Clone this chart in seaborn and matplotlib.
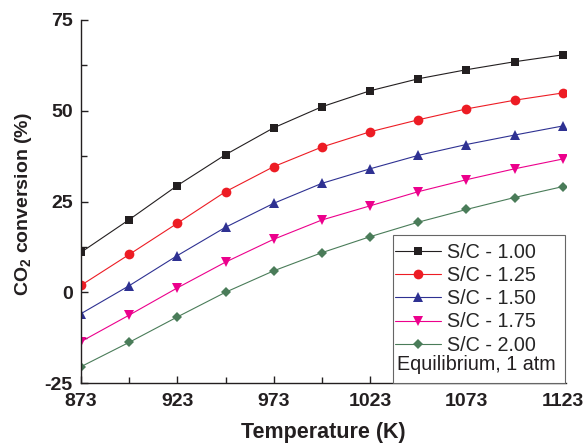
import numpy as np
import pandas as pd
import matplotlib
matplotlib.use("Agg")
import matplotlib.pyplot as plt
from matplotlib.patches import Rectangle
import seaborn as sns

temperature = [873, 898, 923, 948, 973, 998, 1023, 1048, 1073, 1098, 1123]
sc_100 = [11.0, 20.0, 29.4, 37.9, 45.3, 51.1, 55.5, 58.8, 61.3, 63.5, 65.4]
sc_125 = [1.9, 10.4, 19.0, 27.7, 34.6, 40.0, 44.2, 47.5, 50.5, 52.9, 54.9]
sc_150 = [-5.9, 1.8, 10.1, 17.9, 24.5, 30.0, 34.0, 37.7, 40.7, 43.3, 45.8]
sc_175 = [-13.6, -6.3, 1.2, 8.3, 14.6, 19.9, 23.8, 27.7, 31.0, 34.0, 36.7]
sc_200 = [-20.5, -13.8, -6.8, 0.0, 5.9, 10.9, 15.3, 19.3, 22.8, 26.1, 29.1]
labels = ["S/C - 1.00", "S/C - 1.25", "S/C - 1.50", "S/C - 1.75", "S/C - 2.00"]
series = [sc_100, sc_125, sc_150, sc_175, sc_200]
x_major = [873, 923, 973, 1023, 1073, 1123]
x_minor = [898, 948, 998, 1048, 1098]
y_major = [-25, 0, 25, 50, 75]
y_minor = [-12.5, 12.5, 37.5, 62.5]
note = "Equilibrium, 1 atm"

colors = ["#231f20", "#ed1c24", "#2e3192", "#ec008c", "#4a7c59"]
markers = ["s", "o", "^", "v", "D"]
msizes = [6.0, 7.0, 7.5, 7.5, 5.5]

sns.set_style("ticks")
plt.rcParams["font.family"] = ["Liberation Sans", "DejaVu Sans"]
plt.rcParams["mathtext.fontset"] = "custom"
plt.rcParams["mathtext.rm"] = "Liberation Sans"
plt.rcParams["mathtext.bf"] = "Liberation Sans:bold"
plt.rcParams["axes.unicode_minus"] = False

W, H = 587, 443
L, R, T, B = 81, 565.6, 20, 383
AW, AH = R - L, B - T
fig = plt.figure(figsize=(W / 100, H / 100), dpi=100)
ax = fig.add_axes([L / W, (H - B) / H, AW / W, AH / H])

def fx(px):
    return (px - L) / AW

def fy(py):
    return (B - py) / AH

for lab, vals, c, m, ms in zip(labels, series, colors, markers, msizes):
    df = pd.DataFrame({"T": temperature, "v": vals})
    sns.lineplot(data=df, x="T", y="v", ax=ax, color=c, marker=m,
                 markersize=ms, markeredgewidth=0, linewidth=0.8,
                 label=lab, clip_on=True)

ax.set_xlim(873, 873 + 250 * AW / 481.7)
ax.set_ylim(-25, 75)
ax.set_xticks(x_major)
ax.set_xticks(x_minor, minor=True)
ax.set_yticks(y_major)
ax.set_yticks(y_minor, minor=True)
ax.tick_params(which="both", direction="in", width=1.0, color="#231f20")
ax.tick_params(which="major", length=5, labelsize=14)
ax.tick_params(which="minor", length=4)
ax.tick_params(axis="x", which="major", pad=7)
ax.tick_params(axis="y", which="major", pad=6)
for t in ax.get_xticklabels() + ax.get_yticklabels():
    t.set_fontweight("bold")
    t.set_color("#231f20")

for s in ["top", "right"]:
    ax.spines[s].set_visible(False)
for s in ["left", "bottom"]:
    ax.spines[s].set_linewidth(1.0)
    ax.spines[s].set_color("#231f20")

ax.set_xlabel("Temperature (K)", fontsize=15.5, fontweight="bold", color="#231f20")
ax.set_ylabel(r"CO$_\mathbf{2}$ conversion (%)", fontsize=14, fontweight="bold", color="#231f20")
ax.xaxis.set_label_coords(0.5, fy(422))
ax.yaxis.set_label_coords(fx(34), fy(204))

# legend frame
ax.add_patch(Rectangle((fx(392.5), 0), fx(565) - fx(392.5), fy(235), transform=ax.transAxes,
                       facecolor="white", edgecolor="#666666", linewidth=0.8, zorder=5,
                       clip_on=False))
handles, labs = ax.get_legend_handles_labels()
leg = ax.legend(handles, labs, loc="upper left", bbox_to_anchor=(fx(395), fy(243)),
                fontsize=14.2, frameon=False, handlelength=2.35, handletextpad=0.3,
                labelspacing=0.21, borderpad=0, borderaxespad=0)
leg.set_zorder(6)
ax.text(fx(397), fy(364), note, transform=ax.transAxes,
        fontsize=14.2, va="center", ha="left", color="#231f20", zorder=7)

fig.savefig("out.png", dpi=100)
